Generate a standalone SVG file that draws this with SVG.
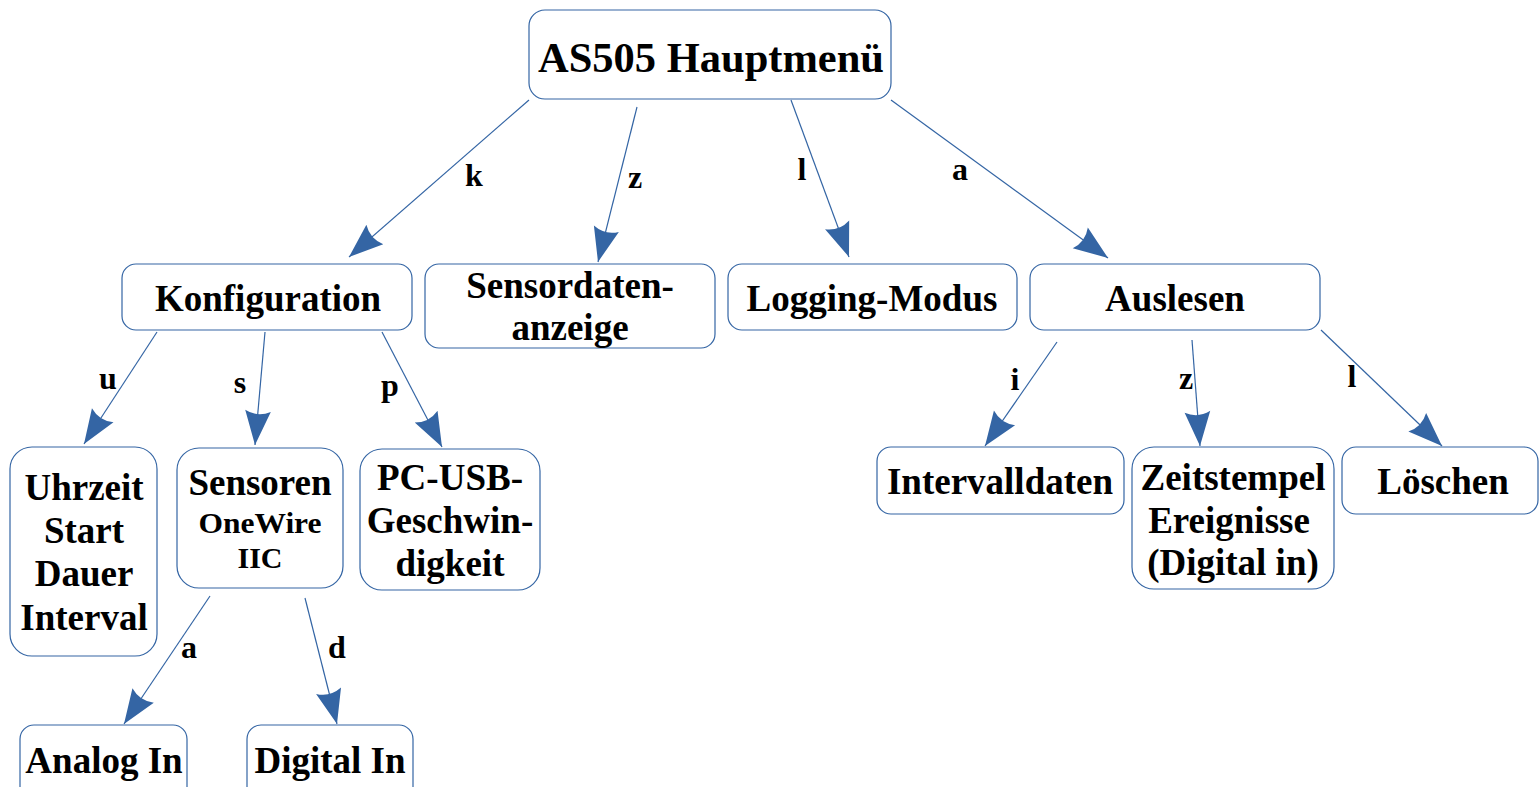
<svg xmlns="http://www.w3.org/2000/svg" width="1539" height="787" viewBox="0 0 1539 787">
<defs>
<style>
.box{fill:#fff;stroke:#3465a4;stroke-width:1.2}
.t{font-family:"Liberation Serif","Times New Roman",serif;font-weight:bold;font-size:37px;fill:#000;text-anchor:middle}
.s{font-size:30px}
.lbl{font-family:"Liberation Serif","Times New Roman",serif;font-weight:bold;font-size:32px;fill:#000;text-anchor:middle}
.c{stroke:#3465a4;stroke-width:1.2;fill:none;marker-end:url(#ah)}
</style>
<marker id="ah" markerUnits="userSpaceOnUse" orient="auto" refX="0" refY="0" markerWidth="40" markerHeight="40" viewBox="-38 -18 42 36" overflow="visible">
<path d="M0,0 L-36,-13.5 Q-29,0 -36,13.5 Z" fill="#3465a4"/>
</marker>
</defs>
<rect width="1539" height="787" fill="#fff"/>
<g id="connectors">
<line class="c" x1="529" y1="100" x2="349" y2="257"/>
<line class="c" x1="637" y1="107" x2="598" y2="262"/>
<line class="c" x1="791" y1="100" x2="849" y2="257"/>
<line class="c" x1="891" y1="100" x2="1108" y2="258"/>
<line class="c" x1="157" y1="332" x2="84" y2="444"/>
<line class="c" x1="265" y1="332" x2="255" y2="445"/>
<line class="c" x1="382" y1="332" x2="442" y2="447"/>
<line class="c" x1="1057" y1="342" x2="985" y2="446"/>
<line class="c" x1="1192" y1="340" x2="1200" y2="446"/>
<line class="c" x1="1321" y1="330" x2="1442" y2="446"/>
<line class="c" x1="210" y1="596" x2="124" y2="724"/>
<line class="c" x1="305" y1="598" x2="337" y2="724"/>
<text class="lbl" x="474" y="186">k</text>
<text class="lbl" x="635" y="188">z</text>
<text class="lbl" x="802" y="180">l</text>
<text class="lbl" x="960" y="180">a</text>
<text class="lbl" x="108" y="389">u</text>
<text class="lbl" x="240" y="393">s</text>
<text class="lbl" x="390" y="396">p</text>
<text class="lbl" x="1015" y="390">i</text>
<text class="lbl" x="1186" y="389">z</text>
<text class="lbl" x="1352" y="387">l</text>
<text class="lbl" x="189" y="658">a</text>
<text class="lbl" x="337" y="658">d</text>
</g>
<g id="main">
<rect class="box" x="529" y="10" width="362" height="89" rx="16"/>
<text class="t" x="711" y="72" style="font-size:43px" textLength="346" lengthAdjust="spacingAndGlyphs">AS505 Hauptmenü</text>
</g>
<g id="konfiguration">
<rect class="box" x="122" y="264" width="290" height="66" rx="14"/>
<text class="t" x="268" y="311">Konfiguration</text>
</g>
<g id="sensordaten">
<rect class="box" x="425" y="264" width="290" height="84" rx="14"/>
<text class="t" x="570" y="298">Sensordaten-</text>
<text class="t" x="570" y="340">anzeige</text>
</g>
<g id="logging">
<rect class="box" x="728" y="264" width="289" height="66" rx="14"/>
<text class="t" x="872" y="311">Logging-Modus</text>
</g>
<g id="auslesen">
<rect class="box" x="1030" y="264" width="290" height="66" rx="14"/>
<text class="t" x="1175" y="311">Auslesen</text>
</g>
<g id="uhrzeit">
<rect class="box" x="10" y="447" width="147" height="209" rx="22"/>
<text class="t" x="84" y="500">Uhrzeit</text>
<text class="t" x="84" y="543">Start</text>
<text class="t" x="84" y="586">Dauer</text>
<text class="t" x="84" y="630">Interval</text>
</g>
<g id="sensoren">
<rect class="box" x="177" y="448" width="166" height="140" rx="22"/>
<text class="t" x="260" y="495">Sensoren</text>
<text class="t s" x="260" y="533" textLength="123" lengthAdjust="spacingAndGlyphs">OneWire</text>
<text class="t s" x="260" y="568">IIC</text>
</g>
<g id="pcusb">
<rect class="box" x="360" y="449" width="180" height="141" rx="22"/>
<text class="t" x="450" y="490">PC-USB-</text>
<text class="t" x="450" y="533">Geschwin-</text>
<text class="t" x="450" y="576">digkeit</text>
</g>
<g id="analog">
<rect class="box" x="20" y="725" width="167" height="80" rx="14"/>
<text class="t" x="104" y="773">Analog In</text>
</g>
<g id="digital">
<rect class="box" x="247" y="725" width="166" height="80" rx="14"/>
<text class="t" x="330" y="773">Digital In</text>
</g>
<g id="intervalldaten">
<rect class="box" x="877" y="447" width="247" height="67" rx="14"/>
<text class="t" x="1000" y="494">Intervalldaten</text>
</g>
<g id="zeitstempel">
<rect class="box" x="1132" y="447" width="202" height="142" rx="22"/>
<text class="t" x="1233" y="490">Zeitstempel</text>
<text class="t" x="1229" y="533">Ereignisse</text>
<text class="t" x="1233" y="575">(Digital in)</text>
</g>
<g id="loeschen">
<rect class="box" x="1342" y="447" width="196" height="67" rx="14"/>
<text class="t" x="1443" y="494">Löschen</text>
</g>
</svg>
